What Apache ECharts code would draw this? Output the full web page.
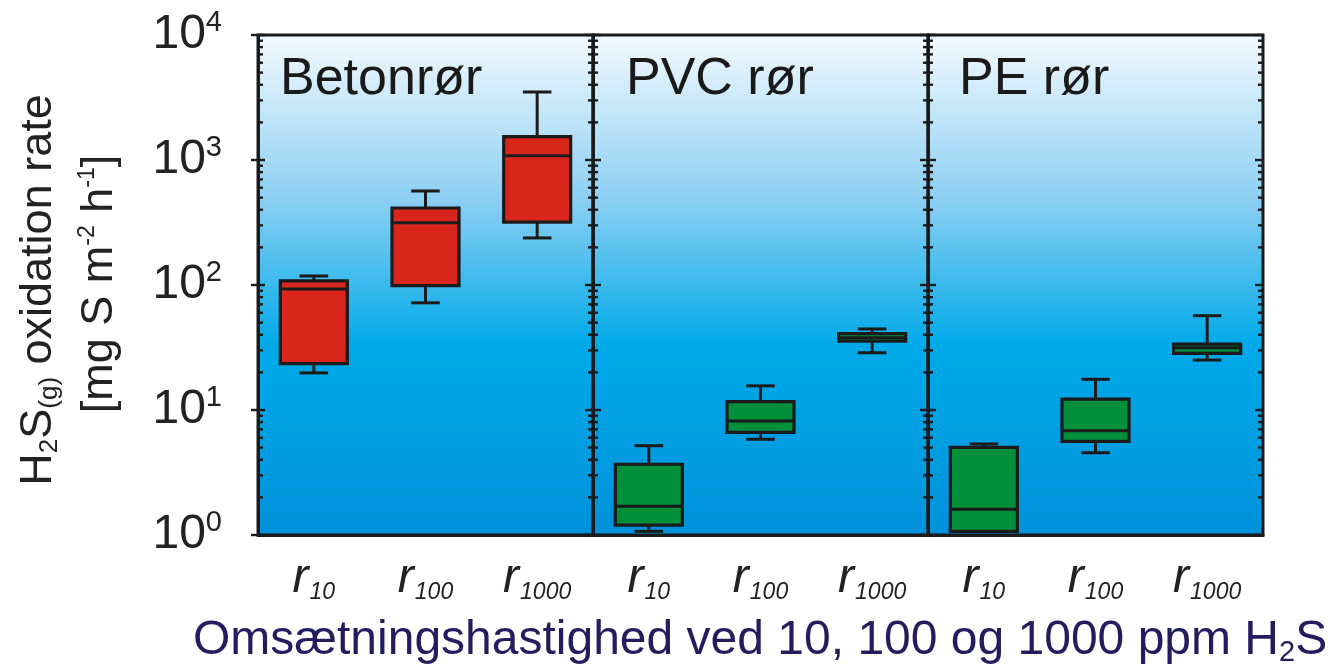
<!DOCTYPE html>
<html><head><meta charset="utf-8">
<script src="https://cdn.jsdelivr.net/npm/echarts@6/dist/echarts.min.js"></script>
<style>html,body{margin:0;padding:0;background:#fff}#c{width:1335px;height:670px}</style>
</head><body><div id="c"></div>
<script>
// ---------- data ----------
const CATEGORIES = ['r10', 'r100', 'r1000'];
const CATEGORY_SUBS = ['10', '100', '1000'];
const PANEL_TITLES = ['Betonrør', 'PVC rør', 'PE rør'];
// each box: [min, Q1, median, Q3, max]
const BETON = [[19.8, 23.5, 93, 108, 118], [72, 99, 315, 413, 565], [238, 319, 1083, 1536, 3500]];
const PVC   = [[1.07, 1.20, 1.70, 3.68, 5.18], [5.83, 6.63, 8.17, 11.65, 15.6], [28.7, 35.5, 37.9, 40.8, 44.5]];
const PE    = [[1.07, 1.07, 1.61, 5.03, 5.35], [4.55, 5.62, 6.83, 12.2, 17.6], [25.1, 28.4, 31.5, 33.7, 56.8]];
const Y_MAJOR = [1, 10, 100, 1000, 10000];
const Y_MINOR = [2, 3, 4, 5, 6, 7, 8, 9, 20, 30, 40, 50, 60, 70, 80, 90,
  200, 300, 400, 500, 600, 700, 800, 900, 2000, 3000, 4000, 5000, 6000, 7000, 8000, 9000];
const Y_TITLE_1 = ['H', '2', 'S', '(g)', ' oxidation rate'];
const Y_TITLE_2 = ['[mg S m', '-2', ' h', '-1', ']'];
const X_TITLE = ['Omsætningshastighed ved 10, 100 og 1000 ppm H', '2', 'S'];

// ---------- styles ----------
const FONT = "'Liberation Sans', Arial, Helvetica, sans-serif";
const INK = '#1b1b1b';
const BOX_COLORS = ['#d9261c', '#00903c', '#00903c'];
const PANELS = [BETON, PVC, PE];
const GRID_LEFT = 258, GRID_TOP = 35, PANEL_W = 335, GRID_H = 500;

const bg = new echarts.graphic.LinearGradient(0, 0, 0, 1, [
  { offset: 0, color: '#f4fafe' },
  { offset: 0.33, color: '#8ccff3' },
  { offset: 0.62, color: '#00aae9' },
  { offset: 1, color: '#0091da' }
]);

function boxRender(color) {
  return function (params, api) {
    const c = api.value(0);
    const pMin = api.coord([c, api.value(1)]);
    const pQ1 = api.coord([c, api.value(2)]);
    const pMed = api.coord([c, api.value(3)]);
    const pQ3 = api.coord([c, api.value(4)]);
    const pMax = api.coord([c, api.value(5)]);
    const band = api.size([1, 1])[0];
    const bw = band * 0.6, cw = band * 0.256;
    const x = pMed[0];
    const ln = { stroke: INK, lineWidth: 3 };
    return {
      type: 'group',
      children: [
        { type: 'line', shape: { x1: x, y1: pMax[1], x2: x, y2: pQ3[1] }, style: ln },
        { type: 'line', shape: { x1: x, y1: pQ1[1], x2: x, y2: pMin[1] }, style: ln },
        { type: 'line', shape: { x1: x - cw / 2, y1: pMax[1], x2: x + cw / 2, y2: pMax[1] }, style: ln },
        { type: 'line', shape: { x1: x - cw / 2, y1: pMin[1], x2: x + cw / 2, y2: pMin[1] }, style: ln },
        { type: 'rect', shape: { x: x - bw / 2, y: pQ3[1], width: bw, height: pQ1[1] - pQ3[1] },
          style: { fill: color, stroke: INK, lineWidth: 3.2 } },
        { type: 'line', shape: { x1: x - bw / 2, y1: pMed[1], x2: x + bw / 2, y2: pMed[1] }, style: ln }
      ]
    };
  };
}

function tickRender(panel) {
  return function (params, api) {
    const cs = params.coordSys;
    const y = api.coord([0, api.value(1)])[1];
    const major = api.value(2) === 1;
    const L = major ? 8 : 5;
    const left = cs.x, right = cs.x + cs.width;
    const lines = [];
    const push = (x1, x2) => lines.push({ type: 'line', shape: { x1: x1, y1: y, x2: x2, y2: y }, style: { stroke: INK, lineWidth: 2.4 } });
    if (panel === 0) push(major ? left - 7 : left, left + (major ? 7 : 5));
    if (panel < 2) push(right - L, right + L); else push(right - L, right);
    return { type: 'group', children: lines };
  };
}

const tickData = Y_MAJOR.map(v => [0, v, 1]).concat(Y_MINOR.map(v => [0, v, 0]));

const grids = [], xAxes = [], yAxes = [], series = [];
PANELS.forEach((panel, i) => {
  grids.push({ left: GRID_LEFT + PANEL_W * i, top: GRID_TOP, width: PANEL_W, height: GRID_H,
    show: true, backgroundColor: bg, borderColor: INK, borderWidth: 3 });
  xAxes.push({
    type: 'category', gridIndex: i, data: CATEGORIES, boundaryGap: true,
    axisLine: { lineStyle: { color: INK, width: 3 } },
    axisTick: { alignWithLabel: true, length: 7, lineStyle: { color: INK, width: 2.4 } },
    axisLabel: {
      margin: 19,
      formatter: (v, idx) => '{r|r}{s|' + CATEGORY_SUBS[idx] + '}',
      rich: {
        r: { fontFamily: FONT, fontStyle: 'italic', fontSize: 48, color: '#222', lineHeight: 50 },
        s: { fontFamily: FONT, fontStyle: 'italic', fontSize: 23, color: '#222', lineHeight: 20, verticalAlign: 'bottom', padding: [0, 0, 0, 1] }
      }
    }
  });
  yAxes.push({
    type: 'log', logBase: 10, min: 1, max: 10000, gridIndex: i,
    splitLine: { show: false }, axisTick: { show: false },
    axisLine: { show: true, lineStyle: { color: INK, width: 3 } },
    axisLabel: {
      show: i === 0, margin: 36,
      formatter: v => '{a|10}{b|' + Math.round(Math.log10(v)) + '}',
      rich: {
        a: { fontFamily: FONT, fontSize: 48, color: '#222', lineHeight: 54 },
        b: { fontFamily: FONT, fontSize: 29, color: '#222', lineHeight: 28, verticalAlign: 'top' }
      }
    }
  });
  series.push({
    type: 'custom', xAxisIndex: i, yAxisIndex: i, renderItem: tickRender(i),
    data: tickData, silent: true, z: 3
  });
  series.push({
    type: 'custom', xAxisIndex: i, yAxisIndex: i, renderItem: boxRender(BOX_COLORS[i]),
    data: panel.map((b, k) => [k].concat(b)), z: 4
  });
});

const titleX = [280, 626, 959];
const graphics = PANEL_TITLES.map((t, i) => ({
  type: 'text', x: titleX[i], y: 80, z: 10,
  style: { text: t, fontFamily: FONT, fontSize: 52, fill: '#1a1a1a', align: 'left', verticalAlign: 'middle' }
}));
graphics.push({
  type: 'text', x: 39, y: 290, rotation: Math.PI / 2, z: 10,
  style: {
    text: '{n|' + Y_TITLE_1[0] + '}{d|' + Y_TITLE_1[1] + '}{n|' + Y_TITLE_1[2] + '}{d|' + Y_TITLE_1[3] + '}{n|' + Y_TITLE_1[4] + '}',
    align: 'center', verticalAlign: 'middle',
    rich: {
      n: { fontFamily: FONT, fontSize: 45, fill: '#222', lineHeight: 48 },
      d: { fontFamily: FONT, fontSize: 26, fill: '#222', lineHeight: 24, verticalAlign: 'bottom' }
    }
  }
});
graphics.push({
  type: 'text', x: 100, y: 284, rotation: Math.PI / 2, z: 10,
  style: {
    text: '{n|' + Y_TITLE_2[0] + '}{u|' + Y_TITLE_2[1] + '}{n|' + Y_TITLE_2[2] + '}{u|' + Y_TITLE_2[3] + '}{n|' + Y_TITLE_2[4] + '}',
    align: 'center', verticalAlign: 'middle',
    rich: {
      n: { fontFamily: FONT, fontSize: 45, fill: '#222', lineHeight: 48 },
      u: { fontFamily: FONT, fontSize: 23, fill: '#222', lineHeight: 22, verticalAlign: 'top' }
    }
  }
});
graphics.push({
  type: 'text', x: 193, y: 641, z: 10,
  style: {
    text: '{n|' + X_TITLE[0] + '}{d|' + X_TITLE[1] + '}{n|' + X_TITLE[2] + '}',
    align: 'left', verticalAlign: 'middle',
    rich: {
      n: { fontFamily: FONT, fontSize: 48, fill: '#221d5e', lineHeight: 52 },
      d: { fontFamily: FONT, fontSize: 29, fill: '#221d5e', lineHeight: 28, verticalAlign: 'bottom' }
    }
  }
});

const chart = echarts.init(document.getElementById('c'), null, { renderer: 'canvas' });
chart.setOption({
  animation: false,
  backgroundColor: '#ffffff',
  grid: grids, xAxis: xAxes, yAxis: yAxes, series: series, graphic: graphics
});
</script></body></html>
